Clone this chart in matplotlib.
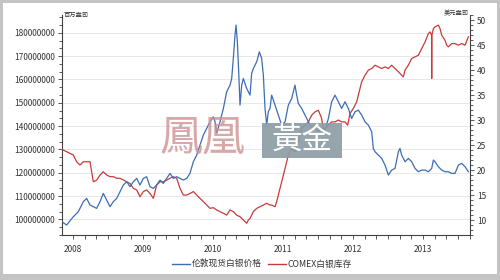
import matplotlib
matplotlib.use("Agg")
import matplotlib.pyplot as plt
from matplotlib.ticker import MultipleLocator, FuncFormatter, AutoMinorLocator
from matplotlib.patches import Rectangle

plt.rcParams['font.family'] = ['Noto Sans CJK SC', 'DejaVu Sans']

# London spot silver price (USD/oz), right axis
price_t = [2007.838, 2007.910, 2008.005, 2008.076, 2008.148, 2008.195, 2008.243, 2008.290, 2008.338, 2008.386,
           2008.433, 2008.481, 2008.529, 2008.576, 2008.624, 2008.671, 2008.719, 2008.767, 2008.814, 2008.862,
           2008.910, 2008.957, 2009.005, 2009.052, 2009.100, 2009.148, 2009.195, 2009.243, 2009.290, 2009.338,
           2009.386, 2009.433, 2009.481, 2009.529, 2009.576, 2009.624, 2009.671, 2009.719, 2009.767, 2009.814,
           2009.862, 2009.910, 2009.957, 2010.005, 2010.029, 2010.052, 2010.100, 2010.148, 2010.195, 2010.243,
           2010.267, 2010.290, 2010.314, 2010.329, 2010.348, 2010.371, 2010.386, 2010.410, 2010.433, 2010.481,
           2010.529, 2010.552, 2010.576, 2010.624, 2010.662, 2010.695, 2010.719, 2010.743, 2010.767, 2010.790,
           2010.814, 2010.838, 2010.886, 2010.933, 2010.981, 2011.029, 2011.076, 2011.124, 2011.171, 2011.195,
           2011.219, 2011.267, 2011.314, 2011.362, 2011.410, 2011.457, 2011.505, 2011.552, 2011.600, 2011.648,
           2011.695, 2011.743, 2011.790, 2011.838, 2011.886, 2011.933, 2011.981, 2012.029, 2012.076, 2012.124,
           2012.171, 2012.219, 2012.267, 2012.290, 2012.314, 2012.362, 2012.410, 2012.457, 2012.505, 2012.552,
           2012.600, 2012.648, 2012.671, 2012.695, 2012.743, 2012.790, 2012.838, 2012.886, 2012.933, 2012.981,
           2013.029, 2013.076, 2013.124, 2013.148, 2013.171, 2013.219, 2013.267, 2013.314, 2013.362, 2013.410,
           2013.457, 2013.505, 2013.552, 2013.600, 2013.648]
price_v = [9.67, 9.0, 10.67, 11.67, 13.67, 14.33, 13.0, 12.67, 12.33, 13.67,
           15.33, 14.0, 12.67, 13.67, 14.33, 15.67, 17.0, 17.67, 16.67, 17.67,
           18.33, 17.0, 18.33, 18.67, 16.67, 16.33, 17.0, 18.0, 17.33, 18.33,
           19.33, 18.33, 18.67, 18.33, 18.0, 18.33, 19.33, 21.67, 23.0, 25.0,
           27.0, 28.33, 29.67, 30.67, 29.67, 27.33, 29.67, 32.33, 35.67, 37.0,
           38.33, 42.33, 47.0, 49.0, 45.67, 38.33, 33.0, 37.0, 38.33, 36.33,
           35.0, 39.33, 40.33, 41.67, 43.67, 42.33, 39.0, 32.33, 29.0, 31.67,
           32.33, 35.0, 33.0, 31.0, 29.0, 29.67, 33.0, 34.33, 37.0, 35.0,
           33.33, 32.33, 31.0, 29.67, 28.33, 29.0, 27.67, 28.33, 28.0, 30.33,
           33.67, 35.0, 33.67, 32.33, 33.67, 32.33, 30.33, 31.67, 32.0, 31.0,
           29.67, 29.0, 27.67, 24.33, 23.67, 23.0, 22.33, 21.0, 19.0, 20.0,
           20.33, 23.67, 24.33, 23.0, 21.67, 22.33, 21.67, 20.33, 19.67, 20.0,
           20.0, 19.67, 20.33, 22.0, 21.67, 20.67, 20.0, 19.67, 19.67, 19.33,
           19.33, 21.0, 21.33, 20.67, 19.67]

# COMEX silver inventory (million oz), left axis
stock_t = [2007.838, 2007.862, 2007.910, 2007.957, 2008.005, 2008.052, 2008.100, 2008.148, 2008.195, 2008.243,
           2008.267, 2008.290, 2008.338, 2008.386, 2008.433, 2008.481, 2008.529, 2008.576, 2008.624, 2008.671,
           2008.719, 2008.767, 2008.814, 2008.862, 2008.910, 2008.957, 2009.005, 2009.052, 2009.100, 2009.148,
           2009.195, 2009.243, 2009.290, 2009.338, 2009.386, 2009.433, 2009.481, 2009.529, 2009.576, 2009.624,
           2009.671, 2009.719, 2009.767, 2009.814, 2009.862, 2009.910, 2009.957, 2010.005, 2010.052, 2010.100,
           2010.148, 2010.195, 2010.243, 2010.290, 2010.338, 2010.386, 2010.433, 2010.481, 2010.505, 2010.529,
           2010.576, 2010.624, 2010.671, 2010.719, 2010.767, 2010.814, 2010.838, 2010.886, 2010.910, 2010.933,
           2010.981, 2011.029, 2011.076, 2011.124, 2011.171, 2011.219, 2011.267, 2011.314, 2011.362, 2011.410,
           2011.457, 2011.505, 2011.552, 2011.576, 2011.600, 2011.648, 2011.695, 2011.743, 2011.790, 2011.838,
           2011.886, 2011.924, 2011.957, 2012.005, 2012.052, 2012.100, 2012.124, 2012.171, 2012.219, 2012.267,
           2012.314, 2012.362, 2012.410, 2012.457, 2012.505, 2012.552, 2012.600, 2012.648, 2012.695, 2012.719,
           2012.743, 2012.790, 2012.838, 2012.886, 2012.933, 2012.981, 2013.029, 2013.076, 2013.100, 2013.122,
           2013.124, 2013.126, 2013.148, 2013.171, 2013.219, 2013.243, 2013.267, 2013.314, 2013.338, 2013.362,
           2013.410, 2013.457, 2013.505, 2013.552, 2013.600, 2013.648]
stock_v = [130.4, 129.7, 129.0, 128.3, 127.6, 124.7, 123.3, 124.7, 124.7, 124.7,
           120.4, 116.1, 116.8, 119.0, 120.4, 119.0, 118.3, 118.3, 117.6, 117.6,
           116.9, 116.1, 115.4, 113.3, 112.6, 109.7, 111.9, 112.6, 111.1, 109.0,
           114.7, 116.1, 116.1, 116.8, 117.6, 118.3, 117.6, 113.3, 110.4, 110.4,
           111.1, 111.9, 110.4, 109.0, 107.6, 106.1, 104.7, 105.0, 104.0, 103.3,
           102.6, 101.8, 104.0, 103.3, 101.8, 101.1, 99.7, 98.3, 99.7, 100.4,
           103.3, 104.7, 105.4, 106.1, 106.9, 106.1, 106.1, 105.4, 107.6, 110.4,
           116.1, 121.8, 127.6, 130.4, 129.0, 133.3, 139.0, 140.4, 141.8, 144.7,
           146.1, 146.8, 143.3, 138.3, 139.0, 140.4, 141.8, 141.8, 142.6, 141.8,
           141.8, 140.4, 145.4, 147.6, 150.4, 156.1, 159.0, 161.8, 164.0, 164.7,
           166.1, 165.4, 164.7, 165.4, 164.7, 166.1, 164.7, 163.3, 161.8, 161.1,
           164.0, 166.1, 169.0, 169.7, 170.4, 173.3, 176.1, 179.7, 180.4, 179.0,
           160.4, 179.0, 181.8, 182.6, 183.3, 181.8, 179.0, 176.8, 174.7, 174.0,
           175.4, 175.4, 174.7, 175.4, 174.7, 178.3]

years = [2008, 2009, 2010, 2011, 2012, 2013]
price_label = "伦敦现货白银价格"
stock_label = "COMEX白银库存"

fig = plt.figure(figsize=(5, 2.8), dpi=100)
fig.patch.set_facecolor('white')

ax = fig.add_axes([0.124, 0.1607, 0.816, 0.785])
ax2 = ax.twinx()

blue = '#3d6db5'
red = '#c73b3b'
dark = '#404040'

stock_abs = [v * 1e6 for v in stock_v]
ax.plot(stock_t, stock_abs, color=red, lw=0.9, zorder=3)
ax2.plot(price_t, price_v, color=blue, lw=0.9, zorder=3)

ax.set_xlim(2007.843, 2013.671)
ax.set_ylim(93.27e6, 187.57e6)
ax2.set_ylim(7, 51)

ax.yaxis.set_major_locator(MultipleLocator(10e6))
ax.yaxis.set_minor_locator(AutoMinorLocator(3))
ax.yaxis.set_major_formatter(FuncFormatter(lambda v, p: f"{int(round(v))}"))
ax2.yaxis.set_major_locator(MultipleLocator(5))
ax2.yaxis.set_minor_locator(MultipleLocator(1))
ax.set_xticks(years)
ax.set_xticklabels([str(y) for y in years])
ax.xaxis.set_minor_locator(MultipleLocator(1 / 6))

ax.grid(axis='y', which='major', color='#e8e8e8', lw=0.7, zorder=0)
ax.set_axisbelow(True)

for a in (ax, ax2):
    a.spines['top'].set_visible(False)
    for s in a.spines.values():
        s.set_color(dark)
        s.set_linewidth(0.8)
    a.tick_params(which='both', colors=dark, labelcolor='#333333', labelsize=6, direction='out', width=0.6)
    a.tick_params(which='major', length=3, pad=2)
    a.tick_params(which='minor', length=2)
ax.spines['right'].set_visible(False)
ax2.spines['left'].set_visible(False)
ax2.spines['bottom'].set_visible(False)
ax.tick_params(axis='x', which='major', pad=4)
ax.tick_params(axis='x', which='minor', length=3)

# unit labels
fig.text(0.127, 0.948, "百万盎司", fontsize=4.5, color='#333333', ha='left', va='center')
fig.text(0.937, 0.952, "美元盎司", fontsize=4.5, color='#333333', ha='right', va='center')

# watermark
fig.text(0.406, 0.505, "鳳凰", fontsize=31, color='#cf9393', alpha=0.8, ha='center', va='center',
         family=['Noto Sans CJK TC', 'DejaVu Sans'], fontweight='light', zorder=10)
fig.patches.append(Rectangle((0.524, 1 - 158 / 280), 0.16, 35 / 280, transform=fig.transFigure,
                             facecolor='#8b9ba3', alpha=0.9, edgecolor='none', zorder=10))
fig.text(0.604, 0.5, "黃金", fontsize=22, color='white', ha='center', va='center',
         family=['Noto Sans CJK TC', 'DejaVu Sans'], fontweight='medium', zorder=11)

# legend
fig.lines.append(plt.Line2D([0.344, 0.38], [0.057, 0.057], transform=fig.transFigure, color=blue, lw=1.0))
fig.text(0.384, 0.057, price_label, fontsize=6.3, color='#333333', ha='left', va='center')
fig.lines.append(plt.Line2D([0.536, 0.572], [0.057, 0.057], transform=fig.transFigure, color=red, lw=1.0))
fig.text(0.576, 0.057, stock_label, fontsize=6.3, color='#333333', ha='left', va='center')

# frame
border = '#c4c4c4'
fig.patches.append(Rectangle((0, 0), 1, 6 / 280, transform=fig.transFigure, facecolor=border, edgecolor='none'))
fig.patches.append(Rectangle((0, 0), 3 / 500, 1, transform=fig.transFigure, facecolor=border, edgecolor='none'))
fig.patches.append(Rectangle((1 - 3 / 500, 0), 3 / 500, 1, transform=fig.transFigure, facecolor=border, edgecolor='none'))
fig.patches.append(Rectangle((0, 1 - 3 / 280), 1, 3 / 280, transform=fig.transFigure, facecolor=border, edgecolor='none'))

fig.savefig("out.png", dpi=100)
